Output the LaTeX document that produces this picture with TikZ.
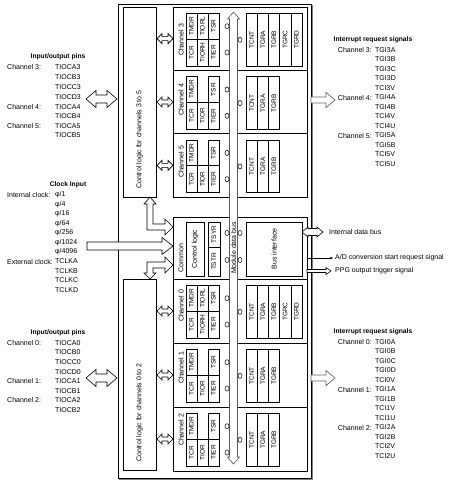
\documentclass[tikz,border=0pt]{standalone}
\usepackage{fontspec}
\setmainfont{Liberation Sans}
\usetikzlibrary{calc,arrows.meta}
\newcommand\rbx[6]{\node[bx, minimum width={(#4)-(#2)}, minimum height={(#5)-(#3)}] (#1) at ({((#2)+(#4))/2},{((#3)+(#5))/2}) {\rotatebox{90}{#6}};}
\newcommand\hdarrow[7][blk]{\draw[#1] ({#2},{#4}) -- ({#2+#7},{#4-#6}) -- ({#2+#7},{#4-#5}) -- ({#3-#7},{#4-#5}) -- ({#3-#7},{#4-#6}) -- ({#3},{#4}) -- ({#3-#7},{#4+#6}) -- ({#3-#7},{#4+#5}) -- ({#2+#7},{#4+#5}) -- ({#2+#7},{#4+#6}) -- cycle;}
\newcommand\sarrow[7][blk]{\draw[#1] ({#2},{#4-#5}) -- ({#3-#7},{#4-#5}) -- ({#3-#7},{#4-#6}) -- ({#3},{#4}) -- ({#3-#7},{#4+#6}) -- ({#3-#7},{#4+#5}) -- ({#2},{#4+#5}) -- cycle;}
\newcommand\chanbase[4]{%
  \rbx{ch#1}{173}{#2}{307}{#3}{}
  \node[inner sep=0] (chl#1) at (181,#4) {\rotatebox{90}{Channel #1}};
  \pgfmathsetmacro\rA{#2+6.5}\pgfmathsetmacro\rB{#2+32}\pgfmathsetmacro\rC{#2+59}
  \rbx{tmdr#1}{186}{\rA}{197}{\rB}{TMDR}
  \rbx{tcr#1}{186}{\rB}{197}{\rC}{TCR}
  \rbx{tsr#1}{208}{\rA}{219}{\rB}{TSR}
  \rbx{tier#1}{208}{\rB}{219}{\rC}{TIER}
  \rbx{tcnt#1}{246}{\rA}{257.2}{\rC}{TCNT}
  \rbx{tgra#1}{257.2}{\rA}{268.4}{\rC}{TGRA}
  \rbx{tgrb#1}{268.4}{\rA}{279.6}{\rC}{TGRB}
  \hdarrow{157}{173}{(#2+#3)/2}{2}{5}{5}}
\newcommand\chanfull[4]{\chanbase{#1}{#2}{#3}{#4}
  \rbx{tiorl#1}{197}{\rA}{208}{\rB}{TIORL}
  \rbx{tiorh#1}{197}{\rB}{208}{\rC}{TIORH}
  \rbx{tgrc#1}{279.6}{\rA}{290.8}{\rC}{TGRC}
  \rbx{tgrd#1}{290.8}{\rA}{302}{\rC}{TGRD}}
\newcommand\chanred[4]{\chanbase{#1}{#2}{#3}{#4}
  \rbx{tior#1}{197}{\rB}{208}{\rC}{TIOR}}
\newcommand\circs[1]{%
  \pgfmathsetmacro\rA{#1+6.5}\pgfmathsetmacro\rB{#1+32}\pgfmathsetmacro\rC{#1+59}
  \draw[circ] (227,{(\rA+\rB)/2}) ellipse [x radius=2, y radius=2.6];
  \draw[circ] (227,{(\rB+\rC)/2}) ellipse [x radius=2, y radius=2.6];
  \draw[circ] (240,{(\rA+\rC)/2}) ellipse [x radius=2, y radius=2.6];}
\newcommand\lst[3]{\node[txt] at (#1,#2) {#3};}
\begin{document}
\begin{tikzpicture}[x=1pt,y=-1pt,
  font=\fontsize{7}{8.4}\selectfont,
  bx/.style={draw, line width=0.6pt, inner sep=0, outer sep=0, fill=white, font=\fontsize{6.5}{7}\selectfont},
  blk/.style={draw, line width=0.6pt, fill=white, line join=miter},
  gblk/.style={draw=black!60, line width=0.7pt, fill=white, line join=miter},
  circ/.style={draw, line width=0.5pt, fill=white},
  txt/.style={inner sep=0, anchor=west},
  rtxt/.style={inner sep=0, anchor=east},
  hdr/.style={inner sep=0, font=\fontsize{6.7}{8}\selectfont\bfseries}]
\useasboundingbox (0,0) rectangle (452,484);
\fill[white] (0,0) rectangle (452,484);
% outer module box
\rbx{outer}{118}{4}{311}{478}{}
\draw[black!50, line width=1.3pt] (119,479.3) -- (312.3,479.3) -- (312.3,5);
% control logic blocks
\rbx{ctlA}{123}{7}{156}{197}{}
\node[inner sep=0, rotate=90, anchor=west] (ctlAl) at (139.5,189) {Control logic for channels 3 to 5};
\rbx{ctlB}{123}{279}{156}{470}{}
\node[inner sep=0, rotate=90, anchor=west] (ctlBl) at (139.5,462) {Control logic for channels 0 to 2};
% channels
\chanfull{3}{7}{70.3}{40}
\chanred{4}{70.3}{133.7}{100}
\chanred{5}{133.7}{197}{162}
\chanfull{0}{279}{343}{306}
\chanred{1}{343}{407}{368}
\chanred{2}{407}{471}{430}
% common block
\rbx{common}{173}{217}{307}{279}{}
\node[inner sep=0] (coml) at (181,258) {\rotatebox{90}{Common}};
\rbx{cl}{186}{222}{204}{276}{}
\node[inner sep=0] at (cl.center) {\rotatebox{90}{Control logic}};
\rbx{tsyr}{208}{222}{220}{247}{TSYR}
\rbx{tstr}{208}{247}{220}{276}{TSTR}
\rbx{busif}{246}{222}{302}{276}{}
\node[inner sep=0] at (busif.center) {\rotatebox{90}{Bus interface}};
% module data bus
\draw[draw=black!65, line width=0.6pt, fill=white, line join=miter]
  (233.5,12) -- (239.5,19) -- (237.5,19) -- (237.5,457) -- (239.5,457) -- (233.5,464)
  -- (227.5,457) -- (229.5,457) -- (229.5,19) -- (227.5,19) -- cycle;
\node[inner sep=0] (mdb) at (233.5,248) {\rotatebox{90}{Module data bus}};
% register circles
\circs{7}\circs{70.3}\circs{133.7}\circs{279}\circs{343}\circs{407}
\draw[circ] (227,233) ellipse [x radius=2, y radius=2.6];
\draw[circ] (227,260) ellipse [x radius=2, y radius=2.6];
\draw[circ] (240,233) ellipse [x radius=2, y radius=2.6];
\draw[circ] (240,260) ellipse [x radius=2, y radius=2.6];
% L-shaped arrows between control logic and common
\draw[blk] (150,197) -- (156,204) -- (153,204) -- (153,224) -- (165,224) -- (165,219)
  -- (173,227) -- (165,235) -- (165,230) -- (147,230) -- (147,204) -- (144,204) -- cycle;
\draw[blk] (150,279) -- (156,273) -- (153,273) -- (153,268) -- (165,268) -- (165,273)
  -- (173,265) -- (165,257) -- (165,262) -- (147,262) -- (147,273) -- (144,273) -- cycle;
% external block arrows
\hdarrow{86}{117}{99}{4}{8.5}{10}
\hdarrow{86}{117}{378}{4}{8.5}{10}
\sarrow{87}{173}{246}{4}{8.5}{11}
\sarrow[gblk]{311}{335}{100}{3}{7.5}{9}
\sarrow[gblk]{311}{335}{378}{3}{7.5}{9}
\hdarrow{302}{323}{232}{3.5}{5}{6}
\sarrow{307}{331}{271}{1.5}{3.5}{5}
% right-side signal labels
\node[txt] (idb) at (329,232) {Internal data bus};
\node[txt] (adl) at (335,258) {A/D conversion start request signal};
\node[txt] (ppg) at (335,271) {PPG output trigger signal};
\draw[line width=0.5pt, -{Stealth[length=3pt,width=2.6pt]}] (common.east |- adl.west) -- ([xshift=-2pt]adl.west);
% left: I/O pins channels 3-5
\node[hdr] (io1) at (58,57) {Input/output pins};
\lst{7}{67}{Channel 3:}\lst{7}{107}{Channel 4:}\lst{7}{126}{Channel 5:}
\lst{55}{67}{TIOCA3}\lst{55}{77}{TIOCB3}\lst{55}{87}{TIOCC3}\lst{55}{97}{TIOCD3}
\lst{55}{107}{TIOCA4}\lst{55}{116}{TIOCB4}\lst{55}{126}{TIOCA5}\lst{55}{135}{TIOCB5}
% clock input
\node[hdr] (clk) at (68,185) {Clock Input};
\lst{7}{195}{Internal clock:}\lst{7}{261.5}{External clock:}
\lst{55}{195}{φ/1}\lst{55}{204.5}{φ/4}\lst{55}{214}{φ/16}\lst{55}{223.5}{φ/64}
\lst{55}{233}{φ/256}\lst{55}{242.5}{φ/1024}\lst{55}{252}{φ/4096}
\lst{55}{261.5}{TCLKA}\lst{55}{271}{TCLKB}\lst{55}{280.5}{TCLKC}\lst{55}{290}{TCLKD}
% left: I/O pins channels 0-2
\node[hdr] (io2) at (58,333) {Input/output pins};
\lst{7}{343}{Channel 0:}\lst{7}{381}{Channel 1:}\lst{7}{400}{Channel 2:}
\lst{55}{343}{TIOCA0}\lst{55}{352.5}{TIOCB0}\lst{55}{362}{TIOCC0}\lst{55}{372}{TIOCD0}
\lst{55}{381}{TIOCA1}\lst{55}{391}{TIOCB1}\lst{55}{400}{TIOCA2}\lst{55}{410}{TIOCB2}
% right: interrupts channels 3-5
\node[hdr] (ir1) at (373,40) {Interrupt request signals};
\node[rtxt] at (372,50) {Channel 3:};\node[rtxt] at (372,97.5) {Channel 4:};\node[rtxt] at (372,135.5) {Channel 5:};
\lst{375}{50}{TGI3A}\lst{375}{59.5}{TGI3B}\lst{375}{69}{TGI3C}\lst{375}{78.5}{TGI3D}\lst{375}{88}{TCI3V}
\lst{375}{97.5}{TGI4A}\lst{375}{107}{TGI4B}\lst{375}{116.5}{TCI4V}\lst{375}{126}{TCI4U}
\lst{375}{135.5}{TGI5A}\lst{375}{145}{TGI5B}\lst{375}{154.5}{TCI5V}\lst{375}{164}{TCI5U}
% right: interrupts channels 0-2
\node[hdr] (ir2) at (373,332) {Interrupt request signals};
\node[rtxt] at (372,342) {Channel 0:};\node[rtxt] at (372,389.5) {Channel 1:};\node[rtxt] at (372,427.5) {Channel 2:};
\lst{375}{342}{TGI0A}\lst{375}{351.5}{TGI0B}\lst{375}{361}{TGI0C}\lst{375}{370.5}{TGI0D}\lst{375}{380}{TCI0V}
\lst{375}{389.5}{TGI1A}\lst{375}{399}{TGI1B}\lst{375}{408.5}{TCI1V}\lst{375}{418}{TCI1U}
\lst{375}{427.5}{TGI2A}\lst{375}{437}{TGI2B}\lst{375}{446.5}{TCI2V}\lst{375}{456}{TCI2U}
\end{tikzpicture}
\end{document}
